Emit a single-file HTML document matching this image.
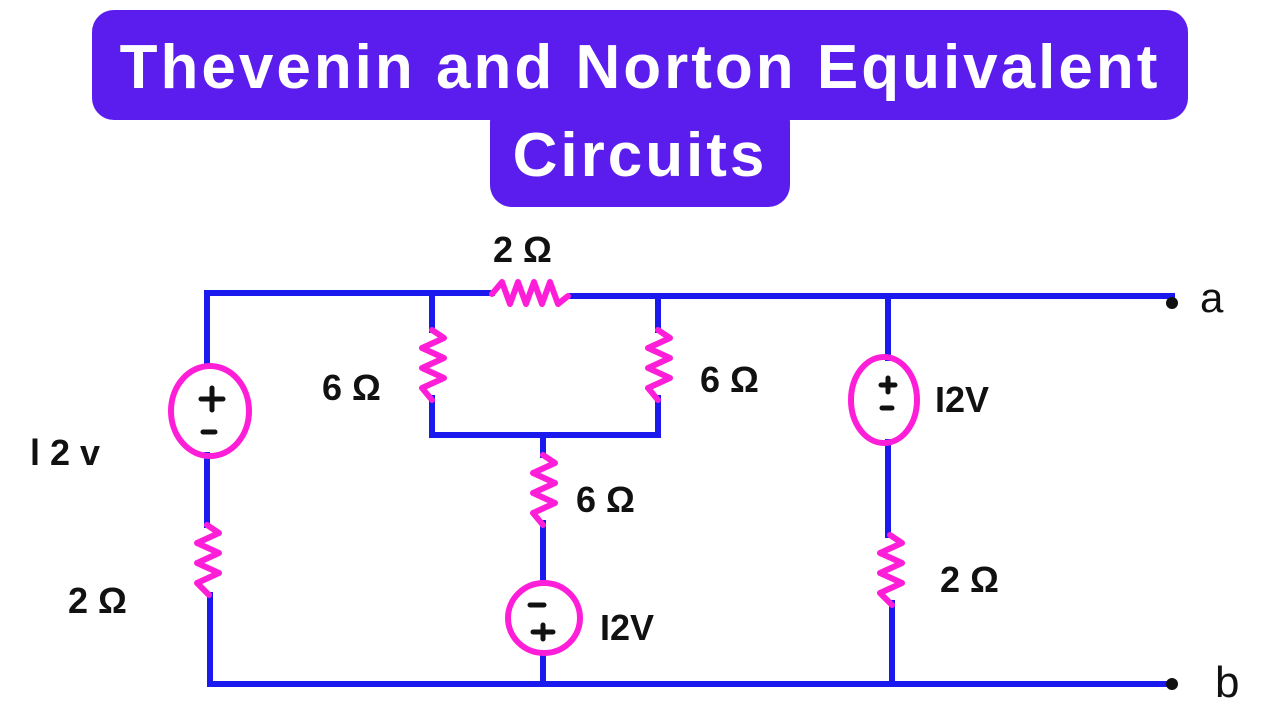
<!DOCTYPE html>
<html><head><style>
body{margin:0;width:1280px;height:720px;background:#fff;overflow:hidden;position:relative;font-family:"Liberation Sans",sans-serif}
.b{position:absolute;background:#5b1ded;border-radius:22px}
.t{position:absolute;color:#fff;font-weight:bold;font-size:62px;letter-spacing:3px;text-align:center;width:100%;left:0}
</style></head><body>
<div class="b" style="left:92px;top:10px;width:1096px;height:110px"></div>
<div class="b" style="left:490px;top:100px;width:300px;height:107px"></div>
<div class="t" style="top:32px">Thevenin and Norton Equivalent</div>
<div class="t" style="top:120px">Circuits</div>
<svg width="1280" height="720" style="position:absolute;left:0;top:0" font-family="Liberation Sans, sans-serif">
<g stroke="#1a1aef" stroke-width="6" fill="none" stroke-linecap="square">
<path d="M207 293 H492 M572 296 H1172"/>
<path d="M207 293 V366 M207 455 V525 M210 595 V684 H1172"/>
<path d="M432 293 V330 M432 398 V435 H658 V398 M658 330 V296"/>
<path d="M543 435 V455 M543 523 V583 M543 653 V684"/>
<path d="M888 297 V358 M888 442 V535 M892 603 V684"/>
</g>
<g fill="#111"><circle cx="1172" cy="303" r="6"/><circle cx="1172" cy="684" r="6"/></g>
<g stroke="#ff1ed8" stroke-width="6" fill="none" stroke-linecap="round" stroke-linejoin="round">
<path d="M492 294 l10 -12 l8 22 l8 -22 l8 22 l8 -22 l8 22 l8 -22 l8 22 l10 -8"/>
<path d="M432 330 l12 8 l-22 10 l22 10 l-22 10 l22 10 l-22 10 l10 12"/>
<path d="M658 330 l12 8 l-22 10 l22 10 l-22 10 l22 10 l-22 10 l10 12"/>
<path d="M543 455 l12 8 l-22 10 l22 10 l-22 10 l22 10 l-22 10 l10 12"/>
<path d="M207 525 l12 8 l-22 10 l22 10 l-22 10 l22 10 l-22 10 l12 12"/>
<path d="M890 535 l12 8 l-22 10 l22 10 l-22 10 l22 10 l-22 10 l12 12"/>
<ellipse cx="210" cy="411" rx="39" ry="45"/>
<ellipse cx="544" cy="618" rx="36" ry="35"/>
<ellipse cx="884" cy="400" rx="33" ry="43"/>
</g>
<g stroke="#111" stroke-width="5" fill="none" stroke-linecap="round">
<path d="M212 388 v22 M201 399 h22 M203 432 h12"/>
<path d="M530 605 h14 M543 625 v14 M533 632 h20"/>
<path d="M888 378 v14 M881 385 h14 M882 408 h10"/>
</g>
<g fill="#111" font-weight="bold" font-size="36">
<text x="493" y="262">2 Ω</text>
<text x="322" y="400">6 Ω</text>
<text x="700" y="392">6 Ω</text>
<text x="576" y="512">6 Ω</text>
<text x="68" y="613">2 Ω</text>
<text x="940" y="592">2 Ω</text>
<text x="30" y="465">l 2 v</text>
<text x="600" y="640">I2V</text>
<text x="935" y="412">I2V</text>
<text x="1200" y="312" font-size="42" font-weight="normal">a</text>
<text x="1215" y="697" font-size="44" font-weight="normal">b</text>
</g>
</svg>
</body></html>
